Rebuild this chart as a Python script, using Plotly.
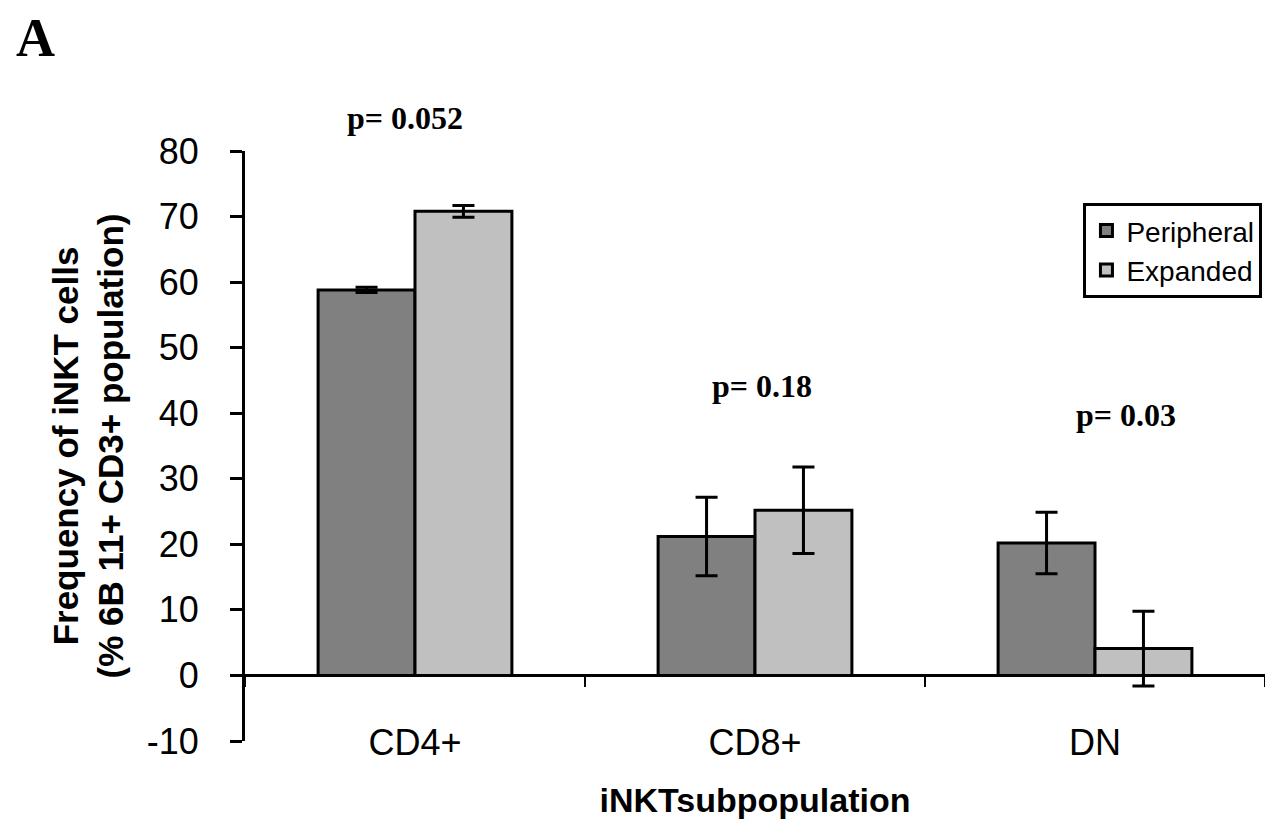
import plotly.graph_objects as go

categories = ["CD4+", "CD8+", "DN"]
peripheral = [58.8, 21.2, 20.2]
peripheral_err = [0.4, 6.0, 4.7]
expanded = [70.8, 25.2, 4.1]
expanded_err = [0.9, 6.6, 5.7]
p_labels = ["p= 0.052", "p= 0.18", "p= 0.03"]
p_y = [85.0, 44.1, 39.8]
p_dx = [-0.03, 0.02, 0.09]
y_ticks = [-10, 0, 10, 20, 30, 40, 50, 60, 70, 80]
y_ticklabels = ["-10", "0", "10", "20", "30", "40", "50", "60", "70", "80"]

Y_MIN, Y_MAX = -10, 80

fig = go.Figure()
fig.add_trace(go.Bar(
    name="Peripheral", x=categories, y=peripheral,
    marker=dict(color="#808080", line=dict(color="black", width=3)),
    error_y=dict(type="data", array=peripheral_err, color="black", thickness=3, width=11),
))
fig.add_trace(go.Bar(
    name="Expanded", x=categories, y=expanded,
    marker=dict(color="#C0C0C0", line=dict(color="black", width=3)),
    error_y=dict(type="data", array=expanded_err, color="black", thickness=3, width=11),
))

for i, (lab, yy, dx) in enumerate(zip(p_labels, p_y, p_dx)):
    fig.add_annotation(x=i + dx, y=(yy - Y_MIN) / (Y_MAX - Y_MIN), xref="x", yref="paper",
                       xanchor="center", yanchor="middle",
                       text="<b>" + lab + "</b>", showarrow=False,
                       font=dict(family="Liberation Serif", size=32, color="black"))

fig.add_annotation(x=-0.226, y=1.245, xref="paper", yref="paper", xanchor="left", yanchor="top",
                   text="<b>A</b>", showarrow=False,
                   font=dict(family="Liberation Serif", size=54, color="black"))

fig.update_layout(
    width=1257, height=811,
    margin=dict(l=237, r=0, t=143, b=78),
    paper_bgcolor="white", plot_bgcolor="white",
    barmode="group", bargap=0.43, bargroupgap=0,
    font=dict(family="Liberation Sans", color="black", size=30),
    showlegend=True,
    legend=dict(x=0.822, y=0.912, xanchor="left", yanchor="top",
                bordercolor="black", borderwidth=3, bgcolor="white",
                font=dict(family="Liberation Sans", size=28), tracegroupgap=2),
    xaxis=dict(
        anchor="free", position=(0 - Y_MIN) / (Y_MAX - Y_MIN), showline=True,
        linecolor="black", linewidth=3,
        ticks="outside", tickson="boundaries", ticklen=10, tickwidth=2, tickcolor="black",
        ticklabelstandoff=34, showgrid=False, automargin=False,
        tickfont=dict(size=36),
        title=dict(text="<b>iNKTsubpopulation</b>", font=dict(size=34), standoff=26),
    ),
    yaxis=dict(
        range=[Y_MIN, Y_MAX], tickvals=y_ticks, ticktext=y_ticklabels,
        showline=True, linecolor="black", linewidth=3,
        ticks="outside", ticklen=12, tickwidth=3, tickcolor="black",
        showgrid=False, zeroline=False, automargin=False,
        tickfont=dict(size=36), ticklabelstandoff=24,
        title=dict(text="<b>Frequency of iNKT cells<br>(% 6B 11+ CD3+ population)</b>",
                   font=dict(size=35), standoff=13),
    ),
)

fig.write_html("out.html")
